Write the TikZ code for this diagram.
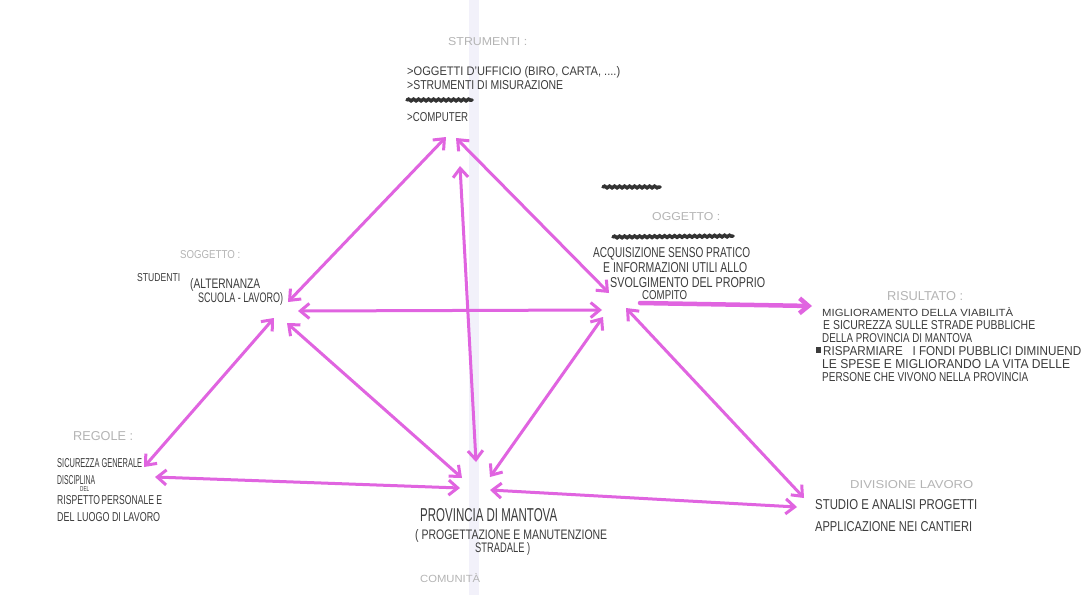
\documentclass[tikz,border=0pt]{standalone}
\usepackage{fontspec}
\setmainfont{Liberation Sans}
\usepackage{graphicx}
\usetikzlibrary{arrows.meta,decorations.pathmorphing}
\definecolor{mag}{RGB}{224,100,224}
\definecolor{ink}{RGB}{60,60,60}
\definecolor{pale}{RGB}{180,180,180}
\definecolor{crease}{RGB}{242,241,250}
\newcommand\hw[3]{\resizebox{#1pt}{#2pt}{#3}}
\begin{document}
\begin{tikzpicture}[x=1pt,y=-1pt,
  txt/.style={anchor=base west,inner sep=0pt,text=ink},
  hd/.style={anchor=base west,inner sep=0pt,text=pale},
  tipb/.tip={Straight Barb[length=9pt,width=15pt]},
  arr/.style={draw=mag,line width=3pt,line cap=round,tipb-tipb},
  arrone/.style={draw=mag,line width=4.5pt,line cap=round,-{Straight Barb[length=9pt,width=15pt]}},
  scrib/.style={draw=black!80,line width=3.5pt,line cap=round,decorate,decoration={snake,amplitude=0.8pt,segment length=5pt}}]
\useasboundingbox[fill=white] (0,0) rectangle (1083,595);
\fill[crease] (469,0) rectangle (479,595);

% ---- texts
\node[hd]  (strh) at (448,45) {\hw{79}{8}{STRUMENTI :}};
\node[txt] (str1) at (407,75) {\hw{213}{9}{>OGGETTI D'UFFICIO (BIRO, CARTA, ....)}};
\node[txt] (str2) at (407,89) {\hw{156}{9}{>STRUMENTI DI MISURAZIONE}};
\node[txt] (str3) at (407,121) {\hw{61}{9}{>COMPUTER}};
\draw[scrib] (407,100) -- (472,100);

\node[hd]  (sogh) at (180,258) {\hw{60}{8}{SOGGETTO :}};
\node[txt] (sog1) at (137,281) {\hw{43}{8}{STUDENTI}};
\node[txt] (sog2) at (190,288) {\hw{70}{10}{(ALTERNANZA}};
\node[txt] (sog3) at (198,302) {\hw{85}{10}{SCUOLA - LAVORO)}};

\draw[scrib] (603,187) -- (660,187);
\node[hd]  (oggh) at (652,220) {\hw{68}{8}{OGGETTO :}};
\draw[scrib] (613,237) -- (733,236);
\node[txt] (ogg1) at (593,257) {\hw{157}{10}{ACQUISIZIONE SENSO PRATICO}};
\node[txt] (ogg2) at (603,272) {\hw{144}{10}{E INFORMAZIONI UTILI ALLO}};
\node[txt] (ogg3) at (610,287) {\hw{155}{10}{SVOLGIMENTO DEL PROPRIO}};
\node[txt] (ogg4) at (642,299) {\hw{45}{9}{COMPITO}};

\node[hd]  (rish) at (887,300) {\hw{76}{9}{RISULTATO :}};
\node[txt] (ris1) at (822,316) {\hw{191}{9}{MIGLIORAMENTO DELLA VIABILITÀ}};
\node[txt] (ris2) at (823,329) {\hw{212}{9}{E SICUREZZA SULLE STRADE PUBBLICHE}};
\node[txt] (ris3) at (822,342) {\hw{150}{9}{DELLA PROVINCIA DI MANTOVA}};
\fill[ink] (816,347) rectangle (821,353);
\node[txt] (ris4) at (823,355) {\hw{258}{9}{RISPARMIARE\ \ \ I FONDI PUBBLICI DIMINUEND}};
\node[txt] (ris5) at (822,368) {\hw{248}{9}{LE SPESE E MIGLIORANDO LA VITA DELLE}};
\node[txt] (ris6) at (822,381) {\hw{206}{9}{PERSONE CHE VIVONO NELLA PROVINCIA}};

\node[hd]  (regh) at (73,440) {\hw{60}{9}{REGOLE :}};
\node[txt] (reg1) at (57,467) {\hw{85}{9}{SICUREZZA GENERALE}};
\node[txt] (reg2) at (57,484) {\hw{38}{9}{DISCIPLINA}};
\node[txt] (reg3) at (80,491) {\hw{9}{5}{DEL}};
\node[txt] (reg4) at (57,504) {\hw{105}{9}{RISPETTO\,PERSONALE E}};
\node[txt] (reg5) at (57,521) {\hw{103}{9}{DEL LUOGO DI LAVORO}};

\node[txt] (com1) at (420,521) {\hw{137}{13}{PROVINCIA DI MANTOVA}};
\node[txt] (com2) at (415,539) {\hw{192}{10}{( PROGETTAZIONE E MANUTENZIONE}};
\node[txt] (com3) at (475,552) {\hw{55}{10}{STRADALE )}};
\node[hd]  (comh) at (420,582) {\hw{60}{9}{COMUNITÀ}};

\node[hd]  (divh) at (850,488) {\hw{123}{8}{DIVISIONE LAVORO}};
\node[txt] (div1) at (815,509) {\hw{162}{10}{STUDIO E ANALISI PROGETTI}};
\node[txt] (div2) at (815,531) {\hw{157}{10}{APPLICAZIONE NEI CANTIERI}};

% ---- arrow end points
\coordinate (t1) at (446,137);
\coordinate (t2) at (456,138);
\coordinate (t3) at (460,166);
\coordinate (s1) at (288,302);
\coordinate (s2) at (298,311);
\coordinate (s3) at (274,318);
\coordinate (s4) at (287,323);
\coordinate (o1) at (609,293);
\coordinate (o2) at (602,310);
\coordinate (o3) at (603,317);
\coordinate (o4) at (626,308);
\coordinate (o5) at (640,303);
\coordinate (r1) at (144,467);
\coordinate (r2) at (155,477);
\coordinate (c1) at (476,462);
\coordinate (c2) at (462,478);
\coordinate (c3) at (460,488);
\coordinate (c4) at (490,477);
\coordinate (c5) at (490,490);
\coordinate (d1) at (804,498);
\coordinate (d2) at (797,507);
\coordinate (x1) at (812,306);

% ---- arrows
\draw[arr] (s1) -- (t1);
\draw[arr] (t2) -- (o1);
\draw[arr] (t3) -- (c1);
\draw[arr] (s2) -- (o2);
\draw[arr] (s3) -- (r1);
\draw[arr] (s4) -- (c2);
\draw[arr] (r2) -- (c3);
\draw[arr] (o3) -- (c4);
\draw[arr] (o4) -- (d1);
\draw[arr] (c5) -- (d2);
\draw[arrone] (o5) -- (x1);
\end{tikzpicture}
\end{document}
